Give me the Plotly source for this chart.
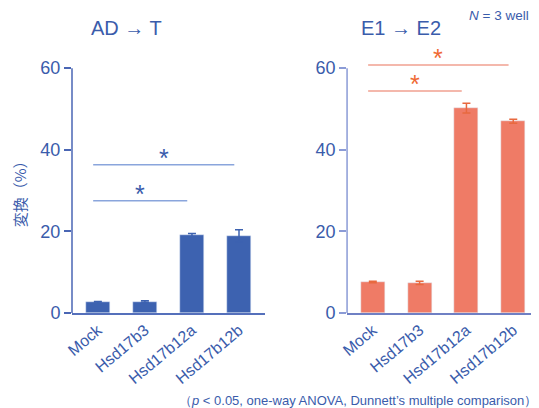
import plotly.graph_objects as go

categories = ["Mock", "Hsd17b3", "Hsd17b12a", "Hsd17b12b"]
ad_t_values = [2.6, 2.8, 19.1, 18.9]
ad_t_errors = [0.2, 0.2, 0.4, 1.5]
e1_e2_values = [7.6, 7.4, 50.2, 47.0]
e1_e2_errors = [0.2, 0.4, 1.2, 0.5]
y_ticks = [0, 20, 40, 60]

# significance brackets: (from category index, to category index, y value)
ad_t_sig = [(0, 2, 27.5), (0, 3, 36.3)]
e1_e2_sig = [(0, 2, 54.4), (0, 3, 60.8)]

BLUE = "#3d62b0"
SALMON = "#ef7b66"
TXT = "#3a5cab"
FONT = "Liberation Sans, Arial, sans-serif"

fig = go.Figure()
fig.add_trace(go.Bar(
    x=list(range(4)), y=ad_t_values, width=0.51, marker_color=BLUE,
    error_y=dict(type="data", array=ad_t_errors, visible=True, color=BLUE,
                 thickness=1.5, width=4),
    xaxis="x", yaxis="y", showlegend=False))
fig.add_trace(go.Bar(
    x=list(range(4)), y=e1_e2_values, width=0.51, marker_color=SALMON,
    error_y=dict(type="data", array=e1_e2_errors, visible=True, color="#e8693f",
                 thickness=1.5, width=4),
    xaxis="x2", yaxis="y2", showlegend=False))

xcommon = dict(range=[-0.55, 3.55], tickmode="array", tickvals=list(range(4)),
               ticktext=categories, tickangle=-40, showgrid=False, zeroline=False,
               showline=True, linewidth=1.5, ticks="", automargin=False,
               tickfont=dict(size=16, color=TXT, family=FONT))
ycommon = dict(range=[0, 62], tickmode="array", tickvals=y_ticks, showgrid=False,
               zeroline=False, showline=False, ticks="outside", ticklen=7,
               tickwidth=1.5, automargin=False,
               tickfont=dict(size=18, color=TXT, family=FONT))

fig.update_layout(
    width=531, height=400,
    margin=dict(l=64, r=0, t=52, b=95, autoexpand=False),
    paper_bgcolor="white", plot_bgcolor="white",
    font=dict(family=FONT, color=TXT),
    xaxis=dict(domain=[0, 0.413], linecolor="#5570bb", **xcommon),
    yaxis=dict(tickcolor="#4a66b4", **ycommon),
    xaxis2=dict(domain=[0.589, 1.0], anchor="y2", linecolor="#6f80c4", **xcommon),
    yaxis2=dict(anchor="x2", tickcolor="#8b9bd6", **ycommon),
    bargap=0,
)

# y axis lines (0 to 60)
fig.add_shape(type="line", xref="paper", yref="y domain", x0=0, x1=0,
              y0=0, y1=60 / 62, line=dict(color="#4a66b4", width=1.5))
fig.add_shape(type="line", xref="paper", yref="y2 domain", x0=0.589, x1=0.589,
              y0=0, y1=60 / 62, line=dict(color="#8b9bd6", width=1.5))

for (a, b, yv) in ad_t_sig:
    fig.add_shape(type="line", xref="x", yref="y", x0=a - 0.1, x1=b - 0.1,
                  y0=yv, y1=yv, line=dict(color="#8aa5dc", width=1.5))
    fig.add_annotation(x=(a + b) / 2 - 0.1, y=yv, xref="x", yref="y", text="*",
                       showarrow=False, yanchor="bottom", yshift=-9,
                       font=dict(size=25, color="#3a5cab", family=FONT))
for (a, b, yv) in e1_e2_sig:
    fig.add_shape(type="line", xref="x2", yref="y2", x0=a - 0.1, x1=b - 0.1,
                  y0=yv, y1=yv, line=dict(color="#f0a090", width=1.5))
    fig.add_annotation(x=(a + b) / 2 - 0.1, y=yv, xref="x2", yref="y2", text="*",
                       showarrow=False, yanchor="bottom", yshift=-9,
                       font=dict(size=25, color="#ef6a35", family=FONT))

fig.add_annotation(text="AD → T", xref="paper", yref="paper", x=0.116, y=1.125,
                   showarrow=False, xanchor="center", yanchor="middle",
                   font=dict(size=20, color=TXT, family=FONT))
fig.add_annotation(text="E1 → E2", xref="paper", yref="paper", x=0.705, y=1.125,
                   showarrow=False, xanchor="center", yanchor="middle",
                   font=dict(size=20, color=TXT, family=FONT))
fig.add_annotation(text="<i>N</i> = 3 well", xref="paper", yref="paper", x=0.983, y=1.174,
                   showarrow=False, xanchor="right", yanchor="middle",
                   font=dict(size=13.5, color=TXT, family=FONT))
fig.add_annotation(text="変換（%）", xref="paper", yref="paper", x=-0.113, y=0.486,
                   showarrow=False, textangle=-90, xanchor="center", yanchor="middle",
                   font=dict(size=15, color=TXT, family="Noto Sans CJK JP"))
fig.add_annotation(text="（<i>p</i> < 0.05, one-way ANOVA, Dunnett’s multiple comparison）",
                   xref="paper", yref="paper", x=1.0, y=-0.345,
                   showarrow=False, xanchor="right", yanchor="middle",
                   font=dict(size=13, color=TXT, family=FONT))

fig.write_html("out.html")
